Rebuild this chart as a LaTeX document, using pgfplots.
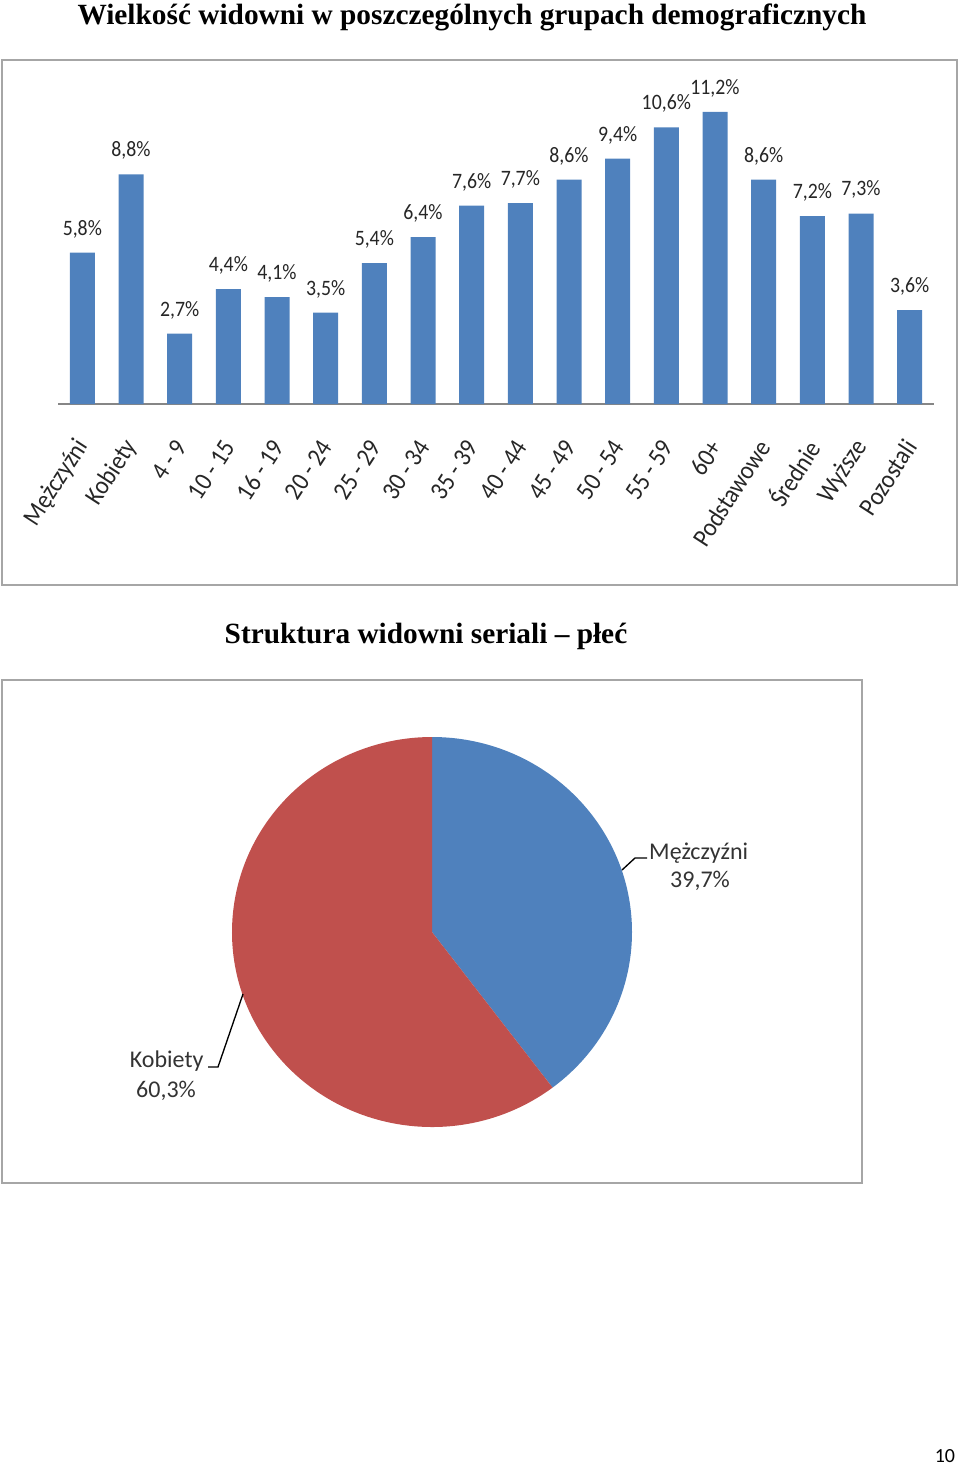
\documentclass[border=0pt]{standalone}
\usepackage{pgfplots}
\pgfplotsset{compat=1.18}
\usepackage{pgfplotstable}
\usepackage{fontspec}
\setmainfont{Carlito}
\newfontfamily\narrowfont{Carlito}[FakeStretch=0.9]
\newfontfamily\timesfont{Liberation Serif}
\definecolor{barblue}{HTML}{4F81BD}
\definecolor{piered}{HTML}{C0504D}
\definecolor{boxgray}{HTML}{A6A6A6}
\definecolor{axgray}{HTML}{868686}

\pgfplotstableread{
label value
Mezczyzni 39.7
Kobiety 60.3
}\pietable

\begin{document}
\begin{tikzpicture}
\path[use as bounding box] (0,0) rectangle (720pt,-1099.5pt);

% titles
\node[anchor=base, font={\timesfont\bfseries\fontsize{22}{26}\selectfont}] at (354pt,-18.4pt) {Wielkość widowni w poszczególnych grupach demograficznych};
\node[anchor=base, font={\timesfont\bfseries\fontsize{22}{26}\selectfont}] at (319.5pt,-482.25pt) {Struktura widowni seriali – płeć};

% boxes
\draw[boxgray, line width=1.5pt] (1.5pt,-45pt) rectangle (717.75pt,-438.75pt);
\draw[boxgray, line width=1.5pt] (1.5pt,-510pt) rectangle (646.5pt,-887.25pt);

% bar chart
\begin{axis}[
  at={(43.5pt,-303pt)}, anchor=south west,
  width=657pt, height=250.5pt, scale only axis,
  xmin=-0.5, xmax=17.5, ymin=0, ymax=12.8,
  axis y line=none, axis x line*=bottom,
  x axis line style={draw=axgray, line width=1pt, -},
  xtick=data, xtick style={draw=none}, ytick=\empty,
  xticklabels={Mężczyźni,Kobiety,4 - 9,10 - 15,16 - 19,20 - 24,25 - 29,30 - 34,35 - 39,40 - 44,45 - 49,50 - 54,55 - 59,60+,Podstawowe,Średnie,Wyższe,Pozostali},
  xticklabel style={yshift=-26pt, xshift=2.5pt, rotate=57, anchor=east, font={\narrowfont\fontsize{19.5}{23}\selectfont}, text=black!85},
  clip=false,
  nodes near coords={\pgfmathprintnumber[fixed,fixed zerofill,precision=1,use comma,assume math mode=true]{\pgfplotspointmeta}\%},
  every node near coord/.append style={font={\narrowfont\fontsize{16.5}{19}\selectfont}, text=black!85, anchor=south, yshift=7.5pt},
]
\addplot[ybar, bar width=18.75pt, fill=barblue, draw=none] coordinates {
(0,5.8) (1,8.8) (2,2.7) (3,4.4) (4,4.1) (5,3.5) (6,5.4) (7,6.4) (8,7.6)
(9,7.7) (10,8.6) (11,9.4) (12,10.6) (13,11.2) (14,8.6) (15,7.2) (16,7.3) (17,3.6)
};
\end{axis}

% pie chart
\pgfplotstablegetelem{0}{value}\of\pietable
\pgfmathsetmacro\angm{90-3.6*\pgfplotsretval}
\begin{axis}[
  at={(324pt,-699pt)}, anchor=center,
  width=300pt, height=292.5pt, scale only axis,
  xmin=-1, xmax=1, ymin=-1, ymax=1, hide axis, clip=false,
]
\fill[barblue] (axis cs:0,0) -- (axis cs:0,1) arc[start angle=90, end angle=\angm, x radius=150pt, y radius=146.25pt] -- cycle;
\fill[piered] (axis cs:0,0) -- (axis cs:{cos(\angm)},{sin(\angm)}) arc[start angle=\angm, end angle=-270, x radius=150pt, y radius=146.25pt] -- cycle;
\end{axis}

% pie labels
\draw[black, line width=1pt] (466.5pt,-652.5pt) -- (476.25pt,-643.5pt) -- (485.25pt,-643.5pt);
\node[anchor=base, font=\fontsize{18}{21}\selectfont, text=black!80] at (524pt,-644.25pt) {Mężczyźni};
\node[anchor=base, font=\fontsize{18}{21}\selectfont, text=black!80] at (525pt,-665.25pt) {39,7\%};
\draw[black, line width=1pt] (182.25pt,-745.5pt) -- (163.5pt,-800.25pt) -- (156pt,-800.25pt);
\node[anchor=base, font=\fontsize{18}{21}\selectfont, text=black!80] at (125pt,-800.25pt) {Kobiety};
\node[anchor=base, font=\fontsize{18}{21}\selectfont, text=black!80] at (124.5pt,-822.75pt) {60,3\%};

% page number
\node[anchor=base east, inner sep=0pt, font=\fontsize{15}{18}\selectfont] at (716.5pt,-1096.5pt) {10};
\end{tikzpicture}
\end{document}
